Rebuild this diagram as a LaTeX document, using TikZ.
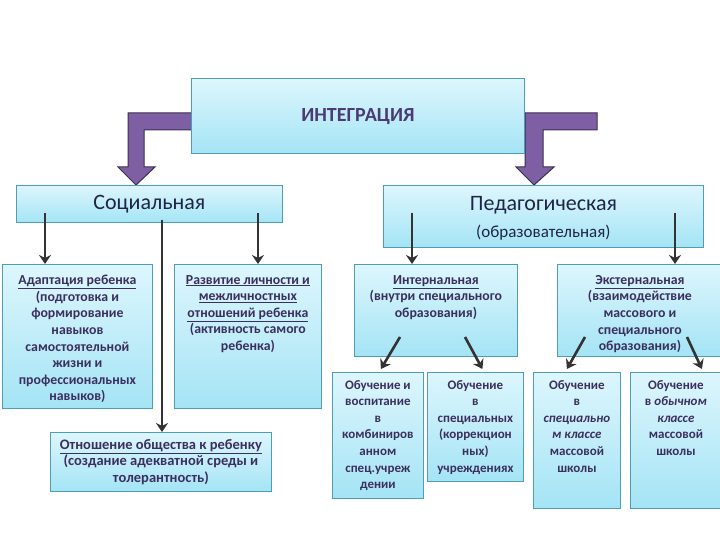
\documentclass[tikz,border=0pt]{standalone}
\usepackage{fontspec}
\setmainfont{Carlito}
\usetikzlibrary{arrows.meta,calc}
\definecolor{cyTop}{HTML}{DDF6FD}
\definecolor{cyBot}{HTML}{A4E4F5}
\definecolor{boxline}{HTML}{4F9DB2}
\definecolor{txtc}{HTML}{3B2F5E}
\definecolor{ttlc}{HTML}{1F2545}
\definecolor{intc}{HTML}{4A3A78}
\definecolor{purp}{HTML}{7E5FA3}
\definecolor{purpd}{HTML}{3A2E52}
\definecolor{arrc}{HTML}{333333}
\begin{document}
\begin{tikzpicture}[x=1pt,y=-1pt,
  box/.style={draw=boxline, line width=0.8pt, top color=cyTop, bottom color=cyBot, inner sep=0pt, anchor=north west},
  txt/.style={font=\bfseries\fontsize{13}{16.6}\selectfont, text=txtc, align=center, inner sep=0pt},
  txtb/.style={font=\bfseries\fontsize{13.8}{16.6}\selectfont, text=txtc, align=center, inner sep=0pt},
  ttl/.style={font=\fontsize{22}{26}\selectfont, text=ttlc, inner sep=0pt},
  sub/.style={font=\fontsize{17}{20}\selectfont, text=ttlc, inner sep=0pt},
  blk/.style={draw=arrc, line width=2.6pt, -{Stealth[length=9pt,width=12pt]}},
  parr/.style={fill=purp, draw=purpd, line width=1pt, line join=miter}]
\useasboundingbox (0,0) rectangle (720,540);
\fill[white] (0,0) rectangle (720,540);
% purple bent arrows
\draw[parr] (128,113) -- (197,113) -- (197,130) -- (144,130) -- (144,167) -- (155,167) -- (136,185) -- (118,167) -- (128,167) -- cycle;
\draw[parr] (525,113) -- (597,113) -- (597,130) -- (543,130) -- (543,167) -- (554,167) -- (534,185) -- (516,167) -- (525,167) -- cycle;
% boxes
\node[box, minimum width=333pt, minimum height=75pt] (integ) at (191,78) {};
\node[box, minimum width=266pt, minimum height=37pt] (soc) at (16,185) {};
\node[box, minimum width=320pt, minimum height=62pt] (ped) at (383,185) {};
\node[box, minimum width=150pt, minimum height=144pt] (adapt) at (2,264) {};
\node[box, minimum width=147pt, minimum height=144pt] (dev) at (174,264) {};
\node[box, minimum width=221pt, minimum height=59pt] (rel) at (50,432) {};
\node[box, minimum width=163pt, minimum height=92pt] (int) at (354,264) {};
\node[box, minimum width=168pt, minimum height=92pt] (ext) at (557,264) {};
\node[box, minimum width=91pt, minimum height=126pt] (ob1) at (332,372) {};
\node[box, minimum width=96pt, minimum height=109pt] (ob2) at (427,372) {};
\node[box, minimum width=87pt, minimum height=136pt] (ob3) at (533,372) {};
\node[box, minimum width=95pt, minimum height=136pt] (ob4) at (630,372) {};
% texts
\node[font=\bfseries\fontsize{20}{24}\selectfont, text=intc, inner sep=0pt] (integT) at ([yshift=-1pt]integ.center) {ИНТЕГРАЦИЯ};
\node[ttl] (socT) at (soc.center) {Социальная};
\node[ttl] (pedT) at ([yshift=11pt]ped.center) {Педагогическая};
\node[sub] (pedS) at ([yshift=-16pt]ped.center) {(образовательная)};
\node[txtb, anchor=north] (adaptT) at ([yshift=-11pt]adapt.north) {\underline{Адаптация ребенка}\\(подготовка и\\формирование\\навыков\\самостоятельной\\жизни и\\профессиональных\\навыков)};
\node[txtb, anchor=north] (devT) at ([yshift=-11pt]dev.north) {\underline{Развитие личности и}\\\underline{межличностных}\\\underline{отношений ребенка}\\(активность самого\\ребенка)};
\node[txtb, font=\bfseries\fontsize{14.5}{16.6}\selectfont] (relT) at (rel.center) {\underline{Отношение общества к ребенку}\\(создание адекватной среды и\\толерантность)};
\node[txtb, anchor=north] (intT) at ([yshift=-11pt]int.north) {\underline{Интернальная}\\(внутри специального\\образования)};
\node[txtb, anchor=north] (extT) at ([yshift=-11pt,xshift=-1.5pt]ext.north) {\underline{Экстернальная}\\(взаимодействие\\массового и\\специального\\образования)};
\node[txt, anchor=north] (ob1T) at ([yshift=-8pt]ob1.north) {Обучение и\\воспитание\\в\\комбиниров\\анном\\спец.учреж\\дении};
\node[txt, anchor=north] (ob2T) at ([yshift=-8pt]ob2.north) {Обучение\\в\\специальных\\(коррекцион\\ных)\\учреждениях};
\node[txt, anchor=north] (ob3T) at ([yshift=-8pt]ob3.north) {Обучение\\в\\\textit{специально}\\\textit{м классе}\\массовой\\школы};
\node[txt, anchor=north] (ob4T) at ([yshift=-8pt,xshift=-2pt]ob4.north) {Обучение\\в \textit{обычном}\\\textit{классе}\\массовой\\школы};
% black arrows
\coordinate (s1) at (45,213);
\coordinate (s2) at (162,220);
\coordinate (s3) at (258,213);
\coordinate (p1) at (412,213);
\coordinate (p2) at (675,213);
\coordinate (i1) at (400,337);
\coordinate (i2) at (465,337);
\coordinate (e1) at (585,337);
\coordinate (e2) at (687,337);
\draw[blk] (s1) -- (s1 |- adapt.north);
\draw[blk] (s2) -- (s2 |- rel.north);
\draw[blk] (s3) -- (s3 |- dev.north);
\draw[blk] (p1) -- (p1 |- int.north);
\draw[blk] (p2) -- (p2 |- ext.north);
\draw[blk] (i1) -- ([xshift=3pt,yshift=3pt]ob1.north);
\draw[blk] (i2) -- ([xshift=7pt,yshift=3pt]ob2.north);
\draw[blk] (e1) -- ([xshift=-10pt,yshift=3pt]ob3.north);
\draw[blk] (e2) -- ([xshift=24pt,yshift=3pt]ob4.north);
\end{tikzpicture}
\end{document}
